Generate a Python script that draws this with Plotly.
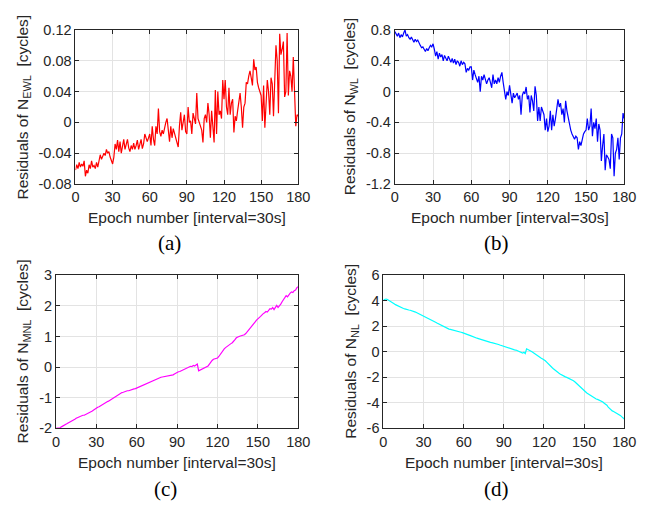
import plotly.graph_objects as go

epochs = list(range(0, 181))

n_ewl = [
    -0.062, -0.055, -0.060, -0.052, -0.058, -0.054, -0.057, -0.050, -0.070, -0.062,
    -0.066, -0.055, -0.060, -0.050, -0.058, -0.056, -0.060, -0.052, -0.058, -0.050,
    -0.042, -0.048, -0.045, -0.040, -0.043, -0.035, -0.040, -0.038, -0.045, -0.050,
    -0.054, -0.045, -0.028, -0.035, -0.023, -0.038, -0.025, -0.040, -0.030, -0.022,
    -0.035, -0.028, -0.022, -0.033, -0.038, -0.030, -0.035, -0.027, -0.035, -0.030,
    -0.023, -0.035, -0.030, -0.022, -0.034, -0.028, -0.015, -0.020, -0.025, -0.020,
    -0.015, -0.030, -0.005, -0.022, -0.030, -0.005, -0.015, 0.018, -0.012, -0.018,
    -0.010, -0.015, -0.005, 0.000, 0.005, -0.010, -0.025, -0.005, -0.020, -0.008,
    -0.015, -0.020, -0.025, -0.032, -0.005, 0.013, -0.010, 0.002, 0.010, -0.012,
    -0.015, 0.020, 0.000, 0.002, -0.015, 0.012, 0.005, -0.002, 0.038, 0.005,
    0.000, -0.005, -0.010, -0.026, 0.005, 0.010, 0.000, 0.025, 0.010, -0.020,
    0.015, -0.005, -0.026, 0.042, -0.015, 0.040, 0.010, 0.015, 0.005, 0.055,
    0.030, 0.055, 0.020, 0.010, 0.045, 0.010, 0.025, 0.030, -0.013, 0.008,
    0.002, 0.015, 0.025, 0.038, 0.020, -0.007, 0.020, 0.025, 0.052, 0.050,
    0.060, 0.067, 0.058, 0.048, 0.082, 0.068, 0.072, 0.052, 0.045, 0.040,
    0.035, 0.002, 0.048, -0.007, 0.020, 0.055, 0.040, 0.010, 0.058, 0.050,
    0.008, 0.050, 0.100, 0.080, 0.012, 0.115, 0.088, 0.095, 0.105, 0.033,
    0.040, 0.116, 0.035, 0.067, 0.060, 0.040, 0.085, 0.040, -0.005, 0.010, 0.008,
]

n_wl = [
    0.78, 0.74, 0.72, 0.76, 0.70, 0.74, 0.71, 0.76, 0.80, 0.72,
    0.74, 0.70, 0.68, 0.71, 0.66, 0.64, 0.68, 0.65, 0.67, 0.62,
    0.60, 0.57, 0.58, 0.55, 0.52, 0.56, 0.53, 0.57, 0.60, 0.58,
    0.62, 0.55, 0.46, 0.52, 0.42, 0.50, 0.45, 0.48, 0.40, 0.47,
    0.44, 0.40, 0.46, 0.41, 0.38, 0.43, 0.37, 0.42, 0.35, 0.40,
    0.38, 0.33, 0.40, 0.35, 0.38, 0.36, 0.25, 0.30, 0.28, 0.32,
    0.32, 0.15, 0.28, 0.22, 0.18, 0.12, 0.20, 0.00, 0.20, 0.15,
    0.22, 0.16, 0.10, 0.15, 0.18, 0.12, 0.05, 0.22, 0.10, 0.15,
    0.10, 0.18, 0.12, 0.20, 0.25, 0.12, 0.00, -0.10, 0.00, -0.05,
    0.08, -0.05, -0.15, -0.02, -0.08, -0.05, -0.02, -0.10, -0.05, -0.30,
    -0.05, 0.00, -0.03, 0.06, -0.10, -0.05, -0.27, -0.05, -0.12, -0.25,
    0.07, -0.05, -0.38, -0.20, -0.38, -0.20, -0.25, -0.30, -0.50, -0.35,
    -0.52, -0.45, -0.25, -0.50, -0.30, -0.45, -0.35, -0.25, -0.10, -0.20,
    -0.15, -0.30, -0.22, -0.40, -0.12, -0.25, -0.35, -0.45, -0.50, -0.55,
    -0.60, -0.62, -0.58, -0.60, -0.75, -0.65, -0.70, -0.62, -0.55, -0.52,
    -0.50, -0.35, -0.50, -0.45, -0.22, -0.58, -0.40, -0.48, -0.35, -0.65,
    -0.42, -0.50, -0.90, -0.70, -0.55, -1.02, -0.82, -0.85, -0.88, -1.00,
    -0.55, -0.60, -1.10, -0.80, -0.75, -0.60, -0.88, -0.60, -0.55, -0.28, -0.35,
]

n_mnl = [
    -2.00, -2.00, -1.99, -1.98, -1.95, -1.93, -1.90, -1.88, -1.85, -1.82,
    -1.80, -1.78, -1.75, -1.72, -1.70, -1.67, -1.65, -1.62, -1.60, -1.58,
    -1.57, -1.57, -1.55, -1.52, -1.51, -1.49, -1.46, -1.43, -1.40, -1.36,
    -1.33, -1.31, -1.29, -1.26, -1.24, -1.21, -1.18, -1.16, -1.13, -1.11,
    -1.08, -1.05, -1.03, -1.00, -0.97, -0.95, -0.92, -0.88, -0.85, -0.83,
    -0.82, -0.80, -0.79, -0.77, -0.77, -0.75, -0.74, -0.72, -0.71, -0.70,
    -0.68, -0.65, -0.64, -0.62, -0.60, -0.58, -0.56, -0.54, -0.51, -0.49,
    -0.47, -0.45, -0.43, -0.42, -0.40, -0.38, -0.36, -0.34, -0.33, -0.32,
    -0.31, -0.31, -0.30, -0.29, -0.28, -0.27, -0.27, -0.25, -0.22, -0.19,
    -0.17, -0.15, -0.14, -0.12, -0.10, -0.08, -0.07, -0.04, -0.03, 0.00,
    0.03, 0.02, 0.06, 0.04, 0.08, 0.10, -0.12, -0.10, -0.08, -0.05,
    -0.03, 0.00, 0.02, 0.04, 0.10, 0.18, 0.22, 0.26, 0.28, 0.29,
    0.30, 0.35, 0.42, 0.50, 0.55, 0.60, 0.64, 0.68, 0.72, 0.75,
    0.77, 0.80, 0.84, 0.90, 0.96, 0.99, 1.00, 1.02, 1.03, 1.05,
    1.06, 1.10, 1.15, 1.20, 1.25, 1.30, 1.36, 1.42, 1.48, 1.54,
    1.60, 1.62, 1.66, 1.72, 1.75, 1.78, 1.82, 1.80, 1.87, 1.91,
    1.90, 1.95, 1.88, 1.96, 2.02, 1.95, 2.00, 2.06, 2.14, 2.20,
    2.28, 2.34, 2.30, 2.38, 2.42, 2.46, 2.44, 2.50, 2.52, 2.60, 2.63,
]

n_nl = [
    4.05, 4.10, 4.12, 4.08, 4.00, 3.92, 3.85, 3.80, 3.75, 3.68,
    3.62, 3.58, 3.52, 3.48, 3.42, 3.38, 3.35, 3.30, 3.28, 3.26,
    3.24, 3.22, 3.18, 3.12, 3.10, 3.05, 3.00, 2.95, 2.90, 2.85,
    2.80, 2.74, 2.69, 2.63, 2.58, 2.52, 2.46, 2.40, 2.35, 2.30,
    2.24, 2.18, 2.12, 2.06, 2.00, 1.94, 1.88, 1.82, 1.78, 1.76,
    1.74, 1.72, 1.68, 1.66, 1.64, 1.60, 1.58, 1.54, 1.52, 1.49,
    1.46, 1.42, 1.38, 1.33, 1.29, 1.25, 1.20, 1.16, 1.12, 1.09,
    1.05, 1.02, 0.98, 0.95, 0.91, 0.88, 0.84, 0.80, 0.77, 0.74,
    0.72, 0.70, 0.68, 0.67, 0.64, 0.60, 0.56, 0.52, 0.48, 0.45,
    0.42, 0.38, 0.35, 0.32, 0.30, 0.26, 0.22, 0.18, 0.14, 0.12,
    0.08, 0.04, 0.00, -0.05, -0.12, -0.05, -0.15, 0.22, 0.18, 0.10,
    0.05, -0.02, -0.10, -0.18, -0.25, -0.30, -0.38, -0.45, -0.52, -0.58,
    -0.62, -0.72, -0.82, -0.95, -1.05, -1.15, -1.25, -1.35, -1.45, -1.55,
    -1.62, -1.68, -1.75, -1.82, -1.88, -1.92, -1.98, -2.02, -2.06, -2.10,
    -2.14, -2.20, -2.28, -2.36, -2.45, -2.55, -2.65, -2.75, -2.86, -2.96,
    -3.06, -3.15, -3.25, -3.32, -3.40, -3.48, -3.55, -3.62, -3.68, -3.72,
    -3.75, -3.80, -3.85, -3.88, -3.95, -4.05, -4.10, -4.20, -4.35, -4.48,
    -4.58, -4.65, -4.70, -4.75, -4.80, -4.85, -4.92, -5.00, -5.10, -5.20, -5.28,
]

x_ticks = [0, 30, 60, 90, 120, 150, 180]
x_ticklabels = ["0", "30", "60", "90", "120", "150", "180"]

ewl_ticks = [-0.08, -0.04, 0, 0.04, 0.08, 0.12]
ewl_labels = ["-0.08", "-0.04", "0", "0.04", "0.08", "0.12"]
wl_ticks = [-1.2, -0.8, -0.4, 0, 0.4, 0.8]
wl_labels = ["-1.2", "-0.8", "-0.4", "0", "0.4", "0.8"]
mnl_ticks = [-2, -1, 0, 1, 2, 3]
mnl_labels = ["-2", "-1", "0", "1", "2", "3"]
nl_ticks = [-6, -4, -2, 0, 2, 4, 6]
nl_labels = ["-6", "-4", "-2", "0", "2", "4", "6"]

panel_labels = ["(a)", "(b)", "(c)", "(d)"]
y_titles = [
    "Residuals of N<sub>EWL</sub>&nbsp; [cycles]",
    "Residuals of N<sub>WL</sub>&nbsp; [cycles]",
    "Residuals of N<sub>MNL</sub>&nbsp; [cycles]",
    "Residuals of N<sub>NL</sub>&nbsp; [cycles]",
]
x_title = "Epoch number [interval=30s]"

W, H = 648, 511
FONT = "Liberation Sans, Arial, Helvetica, sans-serif"
AXC = "#262626"
GRID = "#e3e3e3"

panels = [
    dict(y=n_ewl, color="#ff0000", ticks=ewl_ticks, labels=ewl_labels, rng=[-0.08, 0.12],
         px=(73.3, 301.7), py=(22.7, 181.7), ytx=20, lab=(170, 243)),
    dict(y=n_wl, color="#0000ff", ticks=wl_ticks, labels=wl_labels, rng=[-1.2, 0.8],
         px=(400.7, 636.0), py=(22.7, 181.7), ytx=356, lab=(505, 243)),
    dict(y=n_mnl, color="#ff00ff", ticks=mnl_ticks, labels=mnl_labels, rng=[-2, 3],
         px=(53.3, 301.7), py=(276.0, 434.0), ytx=20, lab=(166, 497)),
    dict(y=n_nl, color="#00ffff", ticks=nl_ticks, labels=nl_labels, rng=[-6, 6],
         px=(389.0, 636.0), py=(275.7, 433.7), ytx=356, lab=(505, 497)),
]

fig = go.Figure()
annotations = []
layout = {}
for i, p in enumerate(panels):
    n = "" if i == 0 else str(i + 1)
    xa, ya = "x" + n, "y" + n
    fig.add_trace(go.Scatter(x=epochs, y=p["y"], mode="lines", xaxis=xa, yaxis=ya,
                             line=dict(color=p["color"], width=1.2), showlegend=False,
                             hoverinfo="skip"))
    common = dict(showline=True, linecolor=AXC, linewidth=1, mirror="ticks",
                  ticks="inside", ticklen=4, tickcolor=AXC, tickwidth=1,
                  showgrid=True, gridcolor=GRID, gridwidth=1, zeroline=False,
                  tickfont=dict(family=FONT, size=14.5, color=AXC))
    layout["xaxis" + n] = dict(common, domain=[p["px"][0] / W, p["px"][1] / W],
                               anchor=ya, range=[0, 180], tickmode="array",
                               tickvals=x_ticks, ticktext=x_ticklabels)
    layout["yaxis" + n] = dict(common, domain=[1 - p["py"][1] / H, 1 - p["py"][0] / H],
                               anchor=xa, range=p["rng"], tickmode="array",
                               tickvals=p["ticks"], ticktext=p["labels"])
    cx = (p["px"][0] + p["px"][1]) / 2
    annotations.append(dict(text=x_title, x=cx / W, y=1 - (p["py"][1] + 35) / H,
                            xref="paper", yref="paper", showarrow=False,
                            xanchor="center", yanchor="middle",
                            font=dict(family=FONT, size=15.5, color=AXC)))
    cy = (p["py"][0] + p["py"][1]) / 2
    annotations.append(dict(text=y_titles[i], x=p["ytx"] / W, y=1 - cy / H,
                            xref="paper", yref="paper", showarrow=False, textangle=-90,
                            xanchor="center", yanchor="middle",
                            font=dict(family=FONT, size=15.5, color=AXC)))
    annotations.append(dict(text=panel_labels[i], x=p["lab"][0] / W, y=1 - p["lab"][1] / H,
                            xref="paper", yref="paper", showarrow=False,
                            xanchor="center", yanchor="middle",
                            font=dict(family="Liberation Serif, Times New Roman, serif",
                                      size=21, color="#000000")))

fig.update_layout(**layout)
fig.update_layout(width=W, height=H, margin=dict(l=0, r=0, t=0, b=0),
                  paper_bgcolor="white", plot_bgcolor="white",
                  annotations=annotations, hovermode=False)
fig.write_html("out.html", config={"displayModeBar": False, "staticPlot": True},
               post_script="document.body.style.margin='0px';")
